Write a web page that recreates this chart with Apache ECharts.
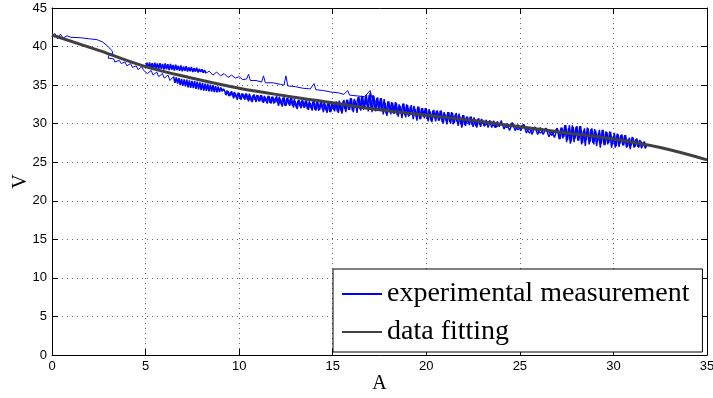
<!DOCTYPE html>
<html>
<head>
<meta charset="utf-8">
<script src="https://cdn.jsdelivr.net/npm/echarts@6/dist/echarts.min.js"></script>
<style>html,body{margin:0;padding:0;background:#fff}#c{width:713px;height:398px}</style>
</head>
<body>
<div id="c"></div>
<script>
// x tick values and y tick values
const xTicks = [0, 5, 10, 15, 20, 25, 30, 35];
const yTicks = [0, 5, 10, 15, 20, 25, 30, 35, 40, 45];

// experimental measurement: start + thin line + stepped descent (x 0..6.5)
const measStartLine = [
  [0,41.3],[0.15,41.7],[0.3,41.0],[0.45,41.6],[0.6,41.1],[0.8,41.4],[1.0,41.2],[1.5,41.15],[2.0,41.0],[2.4,40.9],
  [2.7,40.6],[2.95,40.1],[3.2,39.5],[3.25,39.1],[3.05,38.9],[3.0,38.5],[3.3,38.4],[3.35,38.0],[3.6,38.2],[3.7,37.8],
  [3.9,38.0],[4.0,37.5],[4.2,37.8],[4.3,37.3],[4.5,37.5],[4.6,37.0],[4.8,37.4],[4.9,36.9],[5.0,37.1],[5.1,36.5],
  [5.3,36.9],[5.4,36.3],[5.6,36.7],[5.7,36.1],[5.9,36.5],[6.0,35.9],[6.2,36.3],[6.3,35.6],[6.5,36.1]
];
// experimental measurement: dense lower blob (x 6.5..9.2)
const measLowBlob = [
  [6.5,36.1],[6.57,35.3],[6.64,36.0],[6.71,35.2],[6.78,35.9],[6.85,35.0],[6.92,35.8],[6.99,34.9],[7.06,35.75],[7.13,34.85],[7.20,35.7],
  [7.27,34.7],[7.34,35.6],[7.41,34.65],[7.48,35.55],[7.55,34.6],[7.62,35.5],[7.69,34.5],[7.76,35.45],[7.83,34.45],[7.90,35.35],
  [7.97,34.35],[8.04,35.3],[8.11,34.3],[8.18,35.2],[8.25,34.25],[8.32,35.15],[8.39,34.2],[8.46,35.05],[8.53,34.15],[8.60,35.0],
  [8.67,34.1],[8.74,34.9],[8.81,34.05],[8.88,34.8],[8.95,34.1],[9.02,34.7],[9.09,34.2],[9.16,34.5],[9.2,34.3]
];
// experimental measurement: dense upper blob (x 5..8.22)
const measUpBlob = [
  [5.00,37.3],[5.07,37.9],[5.14,37.2],[5.21,37.95],[5.28,37.25],[5.35,37.85],[5.42,37.1],[5.49,37.9],[5.56,37.2],[5.63,37.8],
  [5.70,37.05],[5.77,37.85],[5.84,37.1],[5.91,37.75],[5.98,37.0],[6.05,37.8],[6.12,37.05],[6.19,37.7],[6.26,36.95],[6.33,37.75],
  [6.40,37.0],[6.47,37.6],[6.54,36.9],[6.61,37.65],[6.68,36.95],[6.75,37.5],[6.82,36.85],[6.89,37.55],[6.96,36.8],[7.03,37.4],
  [7.10,36.85],[7.17,37.45],[7.24,36.75],[7.31,37.3],[7.38,36.8],[7.45,37.35],[7.52,36.7],[7.59,37.2],[7.66,36.75],[7.73,37.25],
  [7.80,36.65],[7.87,37.1],[7.94,36.7],[8.01,37.05],[8.08,36.6],[8.15,36.95],[8.22,36.55]
];
// experimental measurement: upper thin noisy line (x 8.22..17.6)
const measUpLine = [
  [8.22,36.55],[8.4,36.8],[8.6,36.3],[8.8,36.7],[9.0,36.2],[9.2,36.5],[9.4,36.0],[9.6,36.3],
  [9.8,35.9],[10.0,36.1],[10.2,35.7],[10.4,35.8],[10.5,36.4],[10.6,35.6],[10.9,35.6],[11.2,35.4],[11.3,36.2],[11.4,35.3],
  [11.8,35.3],[12.2,35.1],[12.4,35.0],[12.5,36.2],[12.6,34.9],[13.0,34.8],[13.4,34.6],[13.8,34.5],[14.0,35.2],[14.1,34.4],
  [14.5,34.3],[14.9,34.1],[15.3,34.0],[15.6,33.8],[15.8,34.3],[15.9,33.7],[16.3,33.6],[16.7,33.5],[17.0,34.3],[17.1,33.3],
  [17.3,32.9],[17.6,32.6]
];
// experimental measurement: main lower band, forward sweep (x 9.2..31.8)
const measLower = [
  [9.2,34.4],[9.3,33.7],[9.4,34.2],[9.5,33.6],[9.6,34.2],[9.7,33.3],[9.8,33.9],[9.9,33.1],[10.0,34.0],[10.1,33.1],
  [10.2,33.9],[10.3,33.1],[10.4,33.9],[10.5,32.9],[10.6,33.6],[10.7,32.8],[10.8,33.8],[10.9,32.8],[11.0,33.7],[11.1,32.9],
  [11.2,33.7],[11.3,32.7],[11.4,33.4],[11.5,32.6],[11.6,33.6],[11.7,32.6],[11.8,33.5],[11.9,32.7],[12.0,33.6],[12.1,32.3],
  [12.2,33.2],[12.3,32.2],[12.4,33.4],[12.5,32.3],[12.6,33.3],[12.7,32.3],[12.8,33.3],[12.9,32.1],[13.0,32.9],[13.1,31.9],
  [13.2,33.1],[13.3,32.0],[13.4,33.0],[13.5,32.1],[13.6,33.0],[13.7,31.8],[13.8,32.7],[13.9,31.7],[14.0,33.0],[14.1,31.7],
  [14.2,32.8],[14.3,31.8],[14.4,32.9],[14.5,31.5],[14.6,32.5],[14.7,31.4],[14.8,32.8],[14.9,31.5],[15.0,32.7],[15.1,31.6],
  [15.2,32.9],[15.3,31.4],[15.4,32.7],[15.5,31.3],[15.6,33.1],[15.7,31.5],[15.8,33.1],[15.9,31.8],[16.0,33.3],[16.1,31.5],
  [16.2,33.0],[16.3,31.4],[16.4,33.5],[16.5,31.7],[16.6,33.5],[16.7,31.9],[16.8,33.7],[16.9,31.6],[17.0,34.0],[17.1,31.5],
  [17.2,33.6],[17.3,31.6],[17.4,33.4],[17.5,31.7],[17.6,33.3],[17.7,31.2],[17.8,32.7],[17.9,31.0],[18.0,32.9],[18.1,31.2],
  [18.2,32.7],[18.3,31.3],[18.4,32.7],[18.5,30.9],[18.6,32.3],[18.7,30.7],[18.8,32.6],[18.9,30.8],[19.0,32.4],[19.1,31.0],
  [19.2,32.4],[19.3,30.6],[19.4,31.9],[19.5,30.4],[19.6,32.2],[19.7,30.6],[19.8,32.0],[19.9,30.7],[20.0,32.0],[20.1,30.3],
  [20.2,31.6],[20.3,30.2],[20.4,31.8],[20.5,30.3],[20.6,31.7],[20.7,30.4],[20.8,31.7],[20.9,30.0],[21.0,31.2],[21.1,29.9],
  [21.2,31.5],[21.3,30.0],[21.4,31.4],[21.5,30.1],[21.6,31.4],[21.7,29.7],[21.8,30.9],[21.9,29.5],[22.0,31.1],[22.1,29.7],
  [22.2,30.9],[22.3,29.8],[22.4,30.9],[22.5,29.6],[22.6,30.5],[22.7,29.5],[22.8,30.7],[22.9,29.6],[23.0,30.5],[23.1,29.7],
  [23.2,30.5],[23.3,29.5],[23.4,30.2],[23.5,29.5],[23.6,30.4],[23.7,29.5],[23.8,30.3],[23.9,29.6],[24.0,30.4],[24.15,29.3],
  [24.3,30.0],[24.45,29.1],[24.6,30.1],[24.75,29.1],[24.9,29.9],[25.05,29.1],[25.2,29.9],[25.35,28.8],[25.5,29.5],[25.65,28.6],
  [25.8,29.6],[25.95,28.6],[26.1,29.5],[26.25,28.6],[26.4,29.4],[26.55,28.3],[26.7,29.0],[26.85,28.2],[27.0,29.4],[27.1,28.0],
  [27.2,29.5],[27.3,28.1],[27.4,29.8],[27.5,27.6],[27.6,29.4],[27.7,27.4],[27.8,29.8],[27.9,27.6],[28.0,29.6],[28.1,27.8],
  [28.2,29.7],[28.3,27.3],[28.4,29.1],[28.5,27.1],[28.6,29.5],[28.7,27.3],[28.8,29.3],[28.9,27.5],[29.0,29.3],[29.1,27.1],
  [29.2,28.8],[29.3,26.9],[29.4,29.2],[29.5,27.2],[29.6,29.0],[29.7,27.3],[29.8,29.0],[29.9,26.9],[30.0,28.4],[30.1,26.9],
  [30.2,28.7],[30.3,27.0],[30.4,28.5],[30.5,27.2],[30.6,28.5],[30.7,26.9],[30.8,28.0],[30.9,26.7],[31.0,28.3],[31.1,26.9],
  [31.2,28.0],[31.3,27.0],[31.4,27.9],[31.5,26.8],[31.6,27.6],[31.7,26.8],[31.8,27.3]
];
// experimental measurement: main lower band, return sweep (x 31.75..9.25)
const measReturn = [
  [31.75,27.0],[31.65,27.7],[31.55,27.1],[31.45,27.8],[31.35,26.9],[31.25,28.1],[31.15,27.0],[31.05,28.2],[30.95,27.2],[30.85,28.2],
  [30.75,27.0],[30.65,28.5],[30.55,27.2],[30.45,28.6],[30.35,27.4],[30.25,28.6],[30.15,27.1],[30.05,28.8],[29.95,27.3],[29.85,28.9],
  [29.75,27.5],[29.65,28.9],[29.55,27.2],[29.45,29.2],[29.35,27.4],[29.25,29.2],[29.15,27.7],[29.05,29.1],[28.95,27.3],[28.85,29.4],
  [28.75,27.6],[28.65,29.4],[28.55,27.9],[28.45,29.4],[28.35,27.5],[28.25,29.7],[28.15,27.8],[28.05,29.7],[27.95,28.1],[27.85,29.6],
  [27.75,27.7],[27.65,29.8],[27.55,27.9],[27.45,29.8],[27.35,28.3],[27.25,29.5],[27.15,28.0],[27.0,29.4],[26.7,28.5],[26.4,29.4],
  [26.1,28.8],[25.8,29.5],[25.5,28.8],[25.2,29.9],[24.9,29.2],[24.6,30.1],[24.3,29.5],[24.0,30.1],[23.7,29.5],[23.4,30.4],
  [23.1,29.7],[22.95,30.6],[22.85,29.9],[22.75,30.6],[22.65,29.7],[22.55,30.8],[22.45,29.8],[22.35,30.9],[22.25,30.0],[22.15,30.9],
  [22.05,29.8],[21.95,31.1],[21.85,29.9],[21.75,31.3],[21.65,30.2],[21.55,31.2],[21.45,29.9],[21.35,31.5],[21.25,30.2],[21.15,31.5],
  [21.05,30.4],[20.95,31.5],[20.85,30.2],[20.75,31.7],[20.65,30.4],[20.55,31.7],[20.45,30.7],[20.35,31.7],[20.25,30.4],[20.15,31.9],
  [20.05,30.6],[19.95,32.0],[19.85,30.9],[19.75,32.0],[19.65,30.6],[19.55,32.2],[19.45,30.9],[19.35,32.3],[19.25,31.1],[19.15,32.2],
  [19.05,30.9],[18.95,32.5],[18.85,31.1],[18.75,32.6],[18.65,31.3],[18.55,32.5],[18.45,31.1],[18.35,32.8],[18.25,31.3],[18.15,32.8],
  [18.05,31.6],[17.95,32.9],[17.85,31.3],[17.75,33.2],[17.65,31.6],[17.55,33.3],[17.45,31.9],[17.35,33.3],[17.25,31.7],[17.15,33.7],
  [17.05,32.0],[16.95,33.7],[16.85,32.2],[16.75,33.5],[16.65,31.8],[16.55,33.6],[16.45,31.9],[16.35,33.4],[16.25,32.1],[16.15,33.2],
  [16.05,31.7],[15.95,33.3],[15.85,31.8],[15.75,33.1],[15.65,31.9],[15.55,32.9],[15.45,31.6],[15.35,33.0],[15.25,31.6],[15.15,32.8],
  [15.05,31.8],[14.95,32.7],[14.85,31.5],[14.75,32.8],[14.65,31.7],[14.55,32.8],[14.45,31.9],[14.35,32.8],[14.25,31.7],[14.15,32.9],
  [14.05,31.8],[13.95,32.9],[13.85,32.0],[13.75,32.9],[13.65,31.9],[13.55,33.0],[13.45,32.1],[13.35,33.0],[13.25,32.3],[13.15,33.0],
  [13.05,32.1],[12.95,33.2],[12.85,32.3],[12.75,33.3],[12.65,32.5],[12.55,33.3],[12.45,32.3],[12.35,33.4],[12.25,32.5],[12.15,33.5],
  [12.05,32.7],[11.95,33.4],[11.85,32.6],[11.75,33.5],[11.65,32.7],[11.55,33.6],[11.45,32.9],[11.35,33.6],[11.25,32.8],[11.15,33.7],
  [11.05,32.9],[10.95,33.7],[10.85,33.1],[10.75,33.7],[10.65,32.9],[10.55,33.9],[10.45,33.1],[10.35,33.9],[10.25,33.3],[10.15,33.9],
  [10.05,33.2],[9.95,34.0],[9.85,33.4],[9.75,34.1],[9.65,33.6],[9.55,34.1],[9.45,33.6],[9.35,34.3],[9.25,33.8]
];
// data fitting curve
const fitX = [0, 2.5, 5, 7.5, 10, 12.5, 15, 17.5, 20, 22.5, 25, 27.5, 30, 32.5, 35];
const fitY = [41.5, 39.5, 37.4, 35.9, 34.6, 33.6, 32.7, 31.8, 31.1, 30.4, 29.6, 28.8, 28.0, 26.9, 25.3];

const measName = 'experimental measurement';
const fitName = 'data fitting';

const chart = echarts.init(document.getElementById('c'), null, {renderer: 'canvas'});
const tickFont = {fontFamily: 'Liberation Sans, Arial, sans-serif', fontSize: 13, color: '#000'};
const gridLine = {show: true, lineStyle: {color: '#666', width: 1, type: [1, 4]}};
function meas(data, width) {
  return {type: 'line', name: measName, data: data, showSymbol: false, symbol: 'none',
    lineStyle: {color: '#0000ff', width: width}, itemStyle: {color: '#0000ff'}, z: 2};
}

chart.setOption({
  animation: false,
  grid: {left: 52, right: 6, top: 8, bottom: 43, containLabel: false, outerBoundsMode: 'none'},
  xAxis: [{
    type: 'value', min: xTicks[0], max: xTicks[xTicks.length - 1], interval: 5,
    name: 'A', nameLocation: 'middle', nameGap: 19, nameMoveOverlap: false,
    nameTextStyle: {fontFamily: 'Liberation Serif, serif', fontSize: 20, color: '#000'},
    axisLine: {show: true, onZero: false, lineStyle: {color: '#000', width: 1}},
    axisTick: {show: true, inside: true, length: 6, lineStyle: {color: '#000'}},
    axisLabel: Object.assign({margin: 5, showMinLabel: true, showMaxLabel: true}, tickFont),
    splitLine: gridLine
  }, {
    type: 'value', position: 'top', min: xTicks[0], max: xTicks[xTicks.length - 1], interval: 5,
    axisLine: {show: true, onZero: false, lineStyle: {color: '#000', width: 1}},
    axisTick: {show: true, inside: true, length: 6, lineStyle: {color: '#000'}},
    axisLabel: {show: false}, splitLine: {show: false}
  }],
  yAxis: [{
    type: 'value', min: yTicks[0], max: yTicks[yTicks.length - 1], interval: 5,
    name: 'V', nameLocation: 'middle', nameGap: 21, nameRotate: 90, nameMoveOverlap: false,
    nameTextStyle: {fontFamily: 'Liberation Serif, serif', fontSize: 20, color: '#000'},
    axisLine: {show: true, onZero: false, lineStyle: {color: '#000', width: 1}},
    axisTick: {show: true, inside: true, length: 6, lineStyle: {color: '#000'}},
    axisLabel: Object.assign({margin: 5}, tickFont),
    splitLine: gridLine
  }, {
    type: 'value', position: 'right', min: yTicks[0], max: yTicks[yTicks.length - 1], interval: 5,
    axisLine: {show: true, onZero: false, lineStyle: {color: '#000', width: 1}},
    axisTick: {show: true, inside: true, length: 6, lineStyle: {color: '#000'}},
    axisLabel: {show: false}, splitLine: {show: false}
  }],
  legend: {
    data: [measName, fitName],
    orient: 'vertical', left: 333, top: 269,
    padding: [11, 13, 6, 8], itemGap: 10, itemWidth: 40, itemHeight: 20,
    backgroundColor: '#fff', borderColor: '#000', borderWidth: 1, borderRadius: 0,
    textStyle: {fontFamily: 'Liberation Serif, serif', fontSize: 28, color: '#000', lineHeight: 26, padding: [0, 0, 0, 0]},
    itemStyle: {opacity: 0}
  },
  series: [
    meas(measStartLine, 1),
    meas(measUpLine, 1),
    meas(measLowBlob, 1.6),
    meas(measUpBlob, 1.6),
    meas(measLower, 1.4),
    meas(measReturn, 1.4),
    {type: 'line', name: fitName, data: fitX.map((x, i) => [x, fitY[i]]), smooth: 0.4, showSymbol: false, symbol: 'none',
     lineStyle: {color: '#404040', width: 3}, itemStyle: {color: '#404040'}, z: 3}
  ]
});
</script>
</body>
</html>
